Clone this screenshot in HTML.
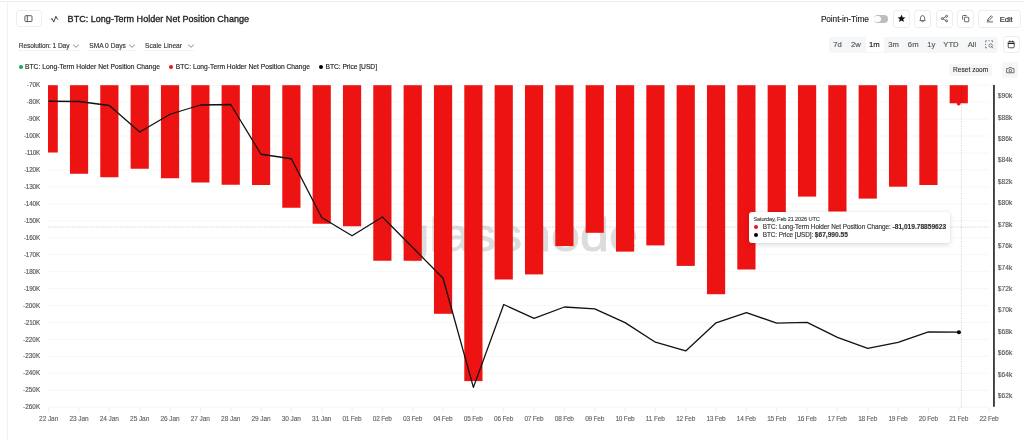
<!DOCTYPE html>
<html lang="en"><head><meta charset="utf-8"><title>BTC: Long-Term Holder Net Position Change</title>
<style>
html,body{margin:0;padding:0;background:#fff;}
body{width:1024px;height:440px;position:relative;overflow:hidden;font-family:"Liberation Sans", Arial, sans-serif;}
.t{position:absolute;white-space:pre;display:block;z-index:2;-webkit-text-stroke:0.14px;}
.abs{position:absolute;box-sizing:border-box;}
.btn{position:absolute;box-sizing:border-box;border:1px solid #eeeeee;border-radius:3px;background:#fff;}
.btn svg{position:absolute;left:-1px;top:-1px;}
.ico svg{position:absolute;left:0;top:0;}
.chart{position:absolute;left:0;top:0;}
.ul{position:absolute;height:0;border-top:1px dotted #e4e4e4;}
.ttl{-webkit-text-stroke:0.32px #222;}
.dot{position:absolute;border-radius:50%;}
.tip{position:absolute;left:749.2px;top:211.6px;width:201.1px;height:31.8px;background:#fff;border-radius:3px;box-shadow:0 1.5px 5px rgba(0,0,0,0.14),0 0 1px rgba(0,0,0,0.08);}

</style></head><body>
<div class="abs" style="left:0;top:1px;width:1024px;height:1px;background:#efefef"></div>
<div class="abs" style="left:7px;top:2px;width:1px;height:438px;background:#f1f1f1"></div>
<svg class="chart" width="1024" height="440" viewBox="0 0 1024 440">
<line x1="48" x2="989" y1="85.20" y2="85.20" stroke="#f5f5f5" stroke-width="0.8"/>
<line x1="48" x2="989" y1="102.15" y2="102.15" stroke="#f5f5f5" stroke-width="0.8"/>
<line x1="48" x2="989" y1="119.09" y2="119.09" stroke="#f5f5f5" stroke-width="0.8"/>
<line x1="48" x2="989" y1="136.04" y2="136.04" stroke="#f5f5f5" stroke-width="0.8"/>
<line x1="48" x2="989" y1="152.99" y2="152.99" stroke="#f5f5f5" stroke-width="0.8"/>
<line x1="48" x2="989" y1="169.94" y2="169.94" stroke="#f5f5f5" stroke-width="0.8"/>
<line x1="48" x2="989" y1="186.88" y2="186.88" stroke="#f5f5f5" stroke-width="0.8"/>
<line x1="48" x2="989" y1="203.83" y2="203.83" stroke="#f5f5f5" stroke-width="0.8"/>
<line x1="48" x2="989" y1="220.78" y2="220.78" stroke="#f5f5f5" stroke-width="0.8"/>
<line x1="48" x2="989" y1="237.72" y2="237.72" stroke="#f5f5f5" stroke-width="0.8"/>
<line x1="48" x2="989" y1="254.67" y2="254.67" stroke="#f5f5f5" stroke-width="0.8"/>
<line x1="48" x2="989" y1="271.62" y2="271.62" stroke="#f5f5f5" stroke-width="0.8"/>
<line x1="48" x2="989" y1="288.56" y2="288.56" stroke="#f5f5f5" stroke-width="0.8"/>
<line x1="48" x2="989" y1="305.51" y2="305.51" stroke="#f5f5f5" stroke-width="0.8"/>
<line x1="48" x2="989" y1="322.46" y2="322.46" stroke="#f5f5f5" stroke-width="0.8"/>
<line x1="48" x2="989" y1="339.41" y2="339.41" stroke="#f5f5f5" stroke-width="0.8"/>
<line x1="48" x2="989" y1="356.35" y2="356.35" stroke="#f5f5f5" stroke-width="0.8"/>
<line x1="48" x2="989" y1="373.30" y2="373.30" stroke="#f5f5f5" stroke-width="0.8"/>
<line x1="48" x2="989" y1="390.25" y2="390.25" stroke="#f5f5f5" stroke-width="0.8"/>
<line x1="48" x2="989" y1="407.19" y2="407.19" stroke="#f5f5f5" stroke-width="0.8"/>
<text x="400.5" y="251.4" font-family='Liberation Sans, Arial, sans-serif' font-size="47" font-weight="400" fill="#dcdcdc" stroke="#dcdcdc" stroke-width="0.9" textLength="237.5" lengthAdjust="spacingAndGlyphs">glassnode</text>
<line x1="48" x2="989" y1="227.1" y2="227.1" stroke="#c2c2c2" stroke-width="0.7" stroke-dasharray="1.2 1.2"/>
<rect x="48.00" y="85.20" width="9.80" height="67.30" fill="#ee1313"/>
<rect x="69.94" y="85.20" width="18.20" height="88.55" fill="#ee1313"/>
<rect x="100.27" y="85.20" width="18.20" height="92.05" fill="#ee1313"/>
<rect x="130.60" y="85.20" width="18.20" height="83.55" fill="#ee1313"/>
<rect x="160.94" y="85.20" width="18.20" height="93.05" fill="#ee1313"/>
<rect x="191.28" y="85.20" width="18.20" height="97.30" fill="#ee1313"/>
<rect x="221.61" y="85.20" width="18.20" height="99.55" fill="#ee1313"/>
<rect x="251.95" y="85.20" width="18.20" height="99.80" fill="#ee1313"/>
<rect x="282.28" y="85.20" width="18.20" height="122.55" fill="#ee1313"/>
<rect x="312.61" y="85.20" width="18.20" height="138.55" fill="#ee1313"/>
<rect x="342.95" y="85.20" width="18.20" height="141.05" fill="#ee1313"/>
<rect x="373.28" y="85.20" width="18.20" height="175.55" fill="#ee1313"/>
<rect x="403.62" y="85.20" width="18.20" height="175.55" fill="#ee1313"/>
<rect x="433.95" y="85.20" width="18.20" height="228.60" fill="#ee1313"/>
<rect x="464.29" y="85.20" width="18.20" height="295.90" fill="#ee1313"/>
<rect x="494.62" y="85.20" width="18.20" height="194.30" fill="#ee1313"/>
<rect x="524.96" y="85.20" width="18.20" height="189.20" fill="#ee1313"/>
<rect x="555.30" y="85.20" width="18.20" height="160.90" fill="#ee1313"/>
<rect x="585.63" y="85.20" width="18.20" height="147.60" fill="#ee1313"/>
<rect x="615.97" y="85.20" width="18.20" height="166.40" fill="#ee1313"/>
<rect x="646.30" y="85.20" width="18.20" height="160.20" fill="#ee1313"/>
<rect x="676.63" y="85.20" width="18.20" height="180.70" fill="#ee1313"/>
<rect x="706.97" y="85.20" width="18.20" height="209.00" fill="#ee1313"/>
<rect x="737.31" y="85.20" width="18.20" height="184.30" fill="#ee1313"/>
<rect x="767.64" y="85.20" width="18.20" height="127.30" fill="#ee1313"/>
<rect x="797.98" y="85.20" width="18.20" height="111.40" fill="#ee1313"/>
<rect x="828.31" y="85.20" width="18.20" height="126.30" fill="#ee1313"/>
<rect x="858.65" y="85.20" width="18.20" height="113.40" fill="#ee1313"/>
<rect x="888.98" y="85.20" width="18.20" height="101.50" fill="#ee1313"/>
<rect x="919.32" y="85.20" width="18.20" height="99.80" fill="#ee1313"/>
<rect x="949.65" y="85.20" width="18.20" height="18.10" fill="#ee1313"/>
<line x1="48.70" x2="48.70" y1="407.3" y2="412.6" stroke="#ececec" stroke-width="0.8"/>
<line x1="79.03" x2="79.03" y1="407.3" y2="412.6" stroke="#ececec" stroke-width="0.8"/>
<line x1="109.37" x2="109.37" y1="407.3" y2="412.6" stroke="#ececec" stroke-width="0.8"/>
<line x1="139.70" x2="139.70" y1="407.3" y2="412.6" stroke="#ececec" stroke-width="0.8"/>
<line x1="170.04" x2="170.04" y1="407.3" y2="412.6" stroke="#ececec" stroke-width="0.8"/>
<line x1="200.38" x2="200.38" y1="407.3" y2="412.6" stroke="#ececec" stroke-width="0.8"/>
<line x1="230.71" x2="230.71" y1="407.3" y2="412.6" stroke="#ececec" stroke-width="0.8"/>
<line x1="261.05" x2="261.05" y1="407.3" y2="412.6" stroke="#ececec" stroke-width="0.8"/>
<line x1="291.38" x2="291.38" y1="407.3" y2="412.6" stroke="#ececec" stroke-width="0.8"/>
<line x1="321.71" x2="321.71" y1="407.3" y2="412.6" stroke="#ececec" stroke-width="0.8"/>
<line x1="352.05" x2="352.05" y1="407.3" y2="412.6" stroke="#ececec" stroke-width="0.8"/>
<line x1="382.38" x2="382.38" y1="407.3" y2="412.6" stroke="#ececec" stroke-width="0.8"/>
<line x1="412.72" x2="412.72" y1="407.3" y2="412.6" stroke="#ececec" stroke-width="0.8"/>
<line x1="443.06" x2="443.06" y1="407.3" y2="412.6" stroke="#ececec" stroke-width="0.8"/>
<line x1="473.39" x2="473.39" y1="407.3" y2="412.6" stroke="#ececec" stroke-width="0.8"/>
<line x1="503.73" x2="503.73" y1="407.3" y2="412.6" stroke="#ececec" stroke-width="0.8"/>
<line x1="534.06" x2="534.06" y1="407.3" y2="412.6" stroke="#ececec" stroke-width="0.8"/>
<line x1="564.40" x2="564.40" y1="407.3" y2="412.6" stroke="#ececec" stroke-width="0.8"/>
<line x1="594.73" x2="594.73" y1="407.3" y2="412.6" stroke="#ececec" stroke-width="0.8"/>
<line x1="625.07" x2="625.07" y1="407.3" y2="412.6" stroke="#ececec" stroke-width="0.8"/>
<line x1="655.40" x2="655.40" y1="407.3" y2="412.6" stroke="#ececec" stroke-width="0.8"/>
<line x1="685.74" x2="685.74" y1="407.3" y2="412.6" stroke="#ececec" stroke-width="0.8"/>
<line x1="716.07" x2="716.07" y1="407.3" y2="412.6" stroke="#ececec" stroke-width="0.8"/>
<line x1="746.41" x2="746.41" y1="407.3" y2="412.6" stroke="#ececec" stroke-width="0.8"/>
<line x1="776.74" x2="776.74" y1="407.3" y2="412.6" stroke="#ececec" stroke-width="0.8"/>
<line x1="807.08" x2="807.08" y1="407.3" y2="412.6" stroke="#ececec" stroke-width="0.8"/>
<line x1="837.41" x2="837.41" y1="407.3" y2="412.6" stroke="#ececec" stroke-width="0.8"/>
<line x1="867.75" x2="867.75" y1="407.3" y2="412.6" stroke="#ececec" stroke-width="0.8"/>
<line x1="898.08" x2="898.08" y1="407.3" y2="412.6" stroke="#ececec" stroke-width="0.8"/>
<line x1="928.42" x2="928.42" y1="407.3" y2="412.6" stroke="#ececec" stroke-width="0.8"/>
<line x1="958.75" x2="958.75" y1="407.3" y2="412.6" stroke="#ececec" stroke-width="0.8"/>
<line x1="989.09" x2="989.09" y1="407.3" y2="412.6" stroke="#ececec" stroke-width="0.8"/>
<line x1="961.4" x2="961.4" y1="85" y2="408" stroke="rgba(0,0,0,0.25)" stroke-width="0.7" stroke-dasharray="1.2 1.2"/>
<polyline points="48.70,101.25 79.03,101.50 109.37,105.50 139.70,132.00 170.04,114.25 200.38,105.00 230.71,104.50 261.05,154.25 291.38,158.75 321.71,217.50 352.05,235.75 382.38,217.00 412.72,247.50 443.06,278.25 473.39,387.40 503.73,304.50 534.06,318.40 564.40,307.00 594.73,308.90 625.07,322.60 655.40,342.20 685.74,350.90 716.07,322.80 746.41,312.70 776.74,323.10 807.08,322.30 837.41,337.30 867.75,348.40 898.08,342.30 928.42,331.80 958.75,332.10" fill="none" stroke="#111" stroke-width="1.3" stroke-linejoin="round"/>
<circle cx="958.7" cy="103.6" r="1.9" fill="#ee1313"/>
<circle cx="958.9" cy="332.3" r="2.05" fill="#000"/>
<rect x="993.1" y="85" width="1.7" height="321.8" fill="#2a2a2a"/>
</svg>
<div class="btn" style="left:16.4px;top:10.2px;width:25.2px;height:17.3px"><svg width="24.8" height="17.2" viewBox="0 0 24.8 17.2"><rect x="8.9" y="5.7" width="7.1" height="5.9" rx="0.9" fill="none" stroke="#333" stroke-width="0.8"/><line x1="11.3" y1="5.7" x2="11.3" y2="11.6" stroke="#333" stroke-width="0.8"/></svg></div>
<div class="ico abs" style="left:48px;top:13px;width:12px;height:12px"><svg width="12" height="12" viewBox="0 0 12 12"><path d="M3.2 6.1 L4.2 5.7 L5.7 9.1 L7.9 3.3 L8.9 5.6 L9.9 6.2" fill="none" stroke="#222" stroke-width="0.85" stroke-linecap="round" stroke-linejoin="round"/></svg></div>
<span class="t ttl" style="left:67.60px;top:13px;font-size:9.0px;line-height:13px;font-weight:400;color:#222;letter-spacing:0.033px">BTC: Long-Term Holder Net Position Change</span>
<span class="t " style="left:18.75px;top:41px;font-size:6.6px;line-height:9px;font-weight:400;color:#333;letter-spacing:-0.081px">Resolution: 1 Day</span>
<span class="t " style="left:89.25px;top:41px;font-size:6.6px;line-height:9px;font-weight:400;color:#333;letter-spacing:0.024px">SMA 0 Days</span>
<span class="t " style="left:145.00px;top:41px;font-size:6.6px;line-height:9px;font-weight:400;color:#333;letter-spacing:0.031px">Scale Linear</span>
<span class="t " style="left:25.00px;top:62px;font-size:6.7px;line-height:9px;font-weight:400;color:#222;letter-spacing:0.030px">BTC: Long-Term Holder Net Position Change</span>
<span class="t " style="left:175.75px;top:62px;font-size:6.7px;line-height:9px;font-weight:400;color:#222;letter-spacing:0.011px">BTC: Long-Term Holder Net Position Change</span>
<span class="t " style="left:325.50px;top:62px;font-size:6.7px;line-height:9px;font-weight:400;color:#222;letter-spacing:-0.035px">BTC: Price [USD]</span>
<span class="t " style="left:820.90px;top:13px;font-size:8.3px;line-height:12px;font-weight:400;color:#222;letter-spacing:-0.086px">Point-in-Time</span>
<span class="t " style="left:999.80px;top:14px;font-size:7.7px;line-height:11px;font-weight:400;color:#222;letter-spacing:-0.117px">Edit</span>
<span class="t " style="left:953.00px;top:65px;font-size:6.6px;line-height:9px;font-weight:400;color:#333;letter-spacing:0.012px">Reset zoom</span>
<span class="t " style="left:833.32px;top:39px;font-size:7.7px;line-height:11px;font-weight:400;color:#555;letter-spacing:0.000px">7d</span>
<span class="t " style="left:850.89px;top:39px;font-size:7.7px;line-height:11px;font-weight:400;color:#555;letter-spacing:0.000px">2w</span>
<span class="t " style="left:869.06px;top:39px;font-size:7.7px;line-height:11px;font-weight:400;color:#111;letter-spacing:0.000px">1m</span>
<span class="t " style="left:888.26px;top:39px;font-size:7.7px;line-height:11px;font-weight:400;color:#555;letter-spacing:0.000px">3m</span>
<span class="t " style="left:907.86px;top:39px;font-size:7.7px;line-height:11px;font-weight:400;color:#555;letter-spacing:0.000px">6m</span>
<span class="t " style="left:927.14px;top:39px;font-size:7.7px;line-height:11px;font-weight:400;color:#555;letter-spacing:0.000px">1y</span>
<span class="t " style="left:943.31px;top:39px;font-size:7.7px;line-height:11px;font-weight:400;color:#555;letter-spacing:0.000px">YTD</span>
<span class="t " style="left:967.73px;top:39px;font-size:7.7px;line-height:11px;font-weight:400;color:#555;letter-spacing:0.000px">All</span>
<div class="ico abs" style="left:72.00px;top:42.3px;width:8px;height:8px"><svg width="8" height="8" viewBox="0 0 8 8"><path d="M1.4 2.9 L4 5.3 L6.6 2.9" fill="none" stroke="#555" stroke-width="0.7" stroke-linecap="round" stroke-linejoin="round"/></svg></div>
<div class="ul" style="left:18.75px;top:50.2px;width:60.00px"></div>
<div class="ico abs" style="left:128.00px;top:42.3px;width:8px;height:8px"><svg width="8" height="8" viewBox="0 0 8 8"><path d="M1.4 2.9 L4 5.3 L6.6 2.9" fill="none" stroke="#555" stroke-width="0.7" stroke-linecap="round" stroke-linejoin="round"/></svg></div>
<div class="ul" style="left:89.25px;top:50.2px;width:45.50px"></div>
<div class="ico abs" style="left:186.75px;top:42.3px;width:8px;height:8px"><svg width="8" height="8" viewBox="0 0 8 8"><path d="M1.4 2.9 L4 5.3 L6.6 2.9" fill="none" stroke="#555" stroke-width="0.7" stroke-linecap="round" stroke-linejoin="round"/></svg></div>
<div class="ul" style="left:145.00px;top:50.2px;width:48.60px"></div>
<div class="dot" style="left:18.5px;top:64.5px;width:4.6px;height:4.6px;background:#0fa958"></div>
<div class="dot" style="left:168.6px;top:64.5px;width:4.6px;height:4.6px;background:#f01414"></div>
<div class="dot" style="left:318.6px;top:64.5px;width:4.6px;height:4.6px;background:#000"></div>
<div class="abs" style="left:873.7px;top:15.1px;width:14.8px;height:8px;border-radius:4px;background:#bdbdbd"><div class="abs" style="left:0.8px;top:0.8px;width:6.4px;height:6.4px;border-radius:50%;background:#fff"></div></div>
<div class="btn" style="left:893px;top:10.4px;width:17px;height:17.2px"><svg width="17" height="17.2" viewBox="0 0 17 17.2"><path d="M8.5 4.6 L9.6 7.2 L12.4 7.4 L10.25 9.2 L10.95 11.95 L8.5 10.45 L6.05 11.95 L6.75 9.2 L4.6 7.4 L7.4 7.2 Z" fill="#111"/></svg></div>
<div class="btn" style="left:914.3px;top:10.4px;width:17.1px;height:17.2px"><svg width="17.1" height="17.2" viewBox="0 0 17.1 17.2"><path d="M5.9 10.6 C6.6 9.9 6.5 9 6.5 7.9 C6.5 6.6 7.4 5.7 8.55 5.7 C9.7 5.7 10.6 6.6 10.6 7.9 C10.6 9 10.5 9.9 11.2 10.6 Z" fill="none" stroke="#333" stroke-width="0.75" stroke-linejoin="round"/><path d="M7.8 11.6 Q8.55 12.3 9.3 11.6" fill="none" stroke="#333" stroke-width="0.75" stroke-linecap="round"/></svg></div>
<div class="btn" style="left:935.6px;top:10.4px;width:17.1px;height:17.2px"><svg width="17.1" height="17.2" viewBox="0 0 17.1 17.2"><g fill="none" stroke="#333" stroke-width="0.75"><circle cx="6.3" cy="8.6" r="1"/><circle cx="10.6" cy="6.3" r="1"/><circle cx="10.6" cy="10.9" r="1"/><path d="M7.2 8.1 L9.7 6.8 M7.2 9.1 L9.7 10.4"/></g></svg></div>
<div class="btn" style="left:956.9px;top:10.4px;width:17.1px;height:17.2px"><svg width="17.1" height="17.2" viewBox="0 0 17.1 17.2"><g fill="none" stroke="#333" stroke-width="0.75" stroke-linejoin="round"><rect x="7.4" y="7.2" width="4.4" height="4.6" rx="0.8"/><path d="M5.6 9.6 L5.6 6.2 Q5.6 5.5 6.3 5.5 L9.6 5.5"/></g></svg></div>
<div class="btn" style="left:978.4px;top:10.4px;width:42.3px;height:17.2px"><svg width="42.3" height="17.2" viewBox="0 0 42.3 17.2"><g fill="none" stroke="#333" stroke-width="0.75" stroke-linecap="round" stroke-linejoin="round"><path d="M9.6 10.6 L10 9 L13.3 5.7 L14.5 6.9 L11.2 10.2 Z"/><path d="M9.2 11.9 L14.6 11.9"/></g></svg></div>
<div class="abs" style="left:828.8px;top:36.6px;width:169.3px;height:16.2px;border-radius:3px;background:#f5f6f8"></div>
<div class="abs" style="left:866px;top:37.2px;width:17.6px;height:15px;border-radius:2px;background:#fff"></div>
<div class="ico abs" style="left:984px;top:38.9px;width:11px;height:11px"><svg width="11" height="11" viewBox="0 0 11 11"><g fill="none" stroke="#555" stroke-width="0.7"><path d="M1.6 3.2 V1.8 H3 M4.4 1.8 H5.8 M7.2 1.8 H8.6 V3.2 M1.6 4.6 V6 M1.6 7.4 V8.8 H3" stroke-linecap="butt"/><circle cx="6.6" cy="6.5" r="1.7"/><path d="M7.9 7.8 L9.2 9.1" stroke-linecap="round"/></g></svg></div>
<div class="btn" style="left:1003.3px;top:36px;width:16.4px;height:17.3px"><svg width="16.4" height="17.3" viewBox="0 0 16.4 17.3"><g fill="none" stroke="#222" stroke-width="0.8" stroke-linejoin="round"><rect x="5.2" y="5.6" width="6" height="6.2" rx="1"/><path d="M5.2 7.4 H11.2" stroke-width="1.2"/><path d="M6.7 4.9 V5.8 M9.7 4.9 V5.8" stroke-linecap="round"/></g></svg></div>
<div class="abs" style="left:949px;top:63.7px;width:43.2px;height:12px;border-radius:2.5px;background:#f6f6f7"></div>
<div class="abs" style="left:1002.3px;top:62px;width:15.8px;height:16.4px;border-radius:2.5px;background:#f6f6f7"><svg width="15.8" height="16.4" viewBox="0 0 15.8 16.4" style="position:absolute;left:0;top:0"><g fill="none" stroke="#444" stroke-width="0.75" stroke-linejoin="round"><path d="M4.6 6.6 H6.4 L7.0 5.6 H9.6 L10.2 6.6 H12 V10.8 H4.6 Z"/><circle cx="8.3" cy="8.6" r="1.3"/></g></svg></div>
<div class="tip"></div>
<div class="dot" style="left:753.9px;top:224.7px;width:4.3px;height:4.3px;background:#ee1313"></div>
<div class="dot" style="left:753.9px;top:232.5px;width:4.3px;height:4.3px;background:#000"></div>
<span class="t " style="left:753.40px;top:215px;font-size:5.7px;line-height:8px;font-weight:400;color:#444;letter-spacing:-0.180px">Saturday, Feb 21 2026 UTC</span>
<span class="t " style="left:762.80px;top:222px;font-size:6.4px;line-height:9px;font-weight:400;color:#333;letter-spacing:-0.040px">BTC: Long-Term Holder Net Position Change:</span>
<span class="t " style="left:892.60px;top:222px;font-size:6.6px;line-height:9px;font-weight:700;color:#333;letter-spacing:-0.003px">-81,019.78859623</span>
<span class="t " style="left:762.80px;top:230px;font-size:6.4px;line-height:9px;font-weight:400;color:#333;letter-spacing:-0.069px">BTC: Price [USD]:</span>
<span class="t " style="left:814.80px;top:230px;font-size:6.6px;line-height:9px;font-weight:700;color:#333;letter-spacing:0.009px">$67,990.55</span>
<span class="t " style="left:26.80px;top:80px;font-size:6.3px;line-height:9px;font-weight:400;color:#555;letter-spacing:-0.004px">-70K</span>
<span class="t " style="left:26.80px;top:97px;font-size:6.3px;line-height:9px;font-weight:400;color:#555;letter-spacing:-0.004px">-80K</span>
<span class="t " style="left:26.80px;top:114px;font-size:6.3px;line-height:9px;font-weight:400;color:#555;letter-spacing:-0.004px">-90K</span>
<span class="t " style="left:23.95px;top:131px;font-size:6.3px;line-height:9px;font-weight:400;color:#555;letter-spacing:-0.166px">-100K</span>
<span class="t " style="left:24.80px;top:148px;font-size:6.3px;line-height:9px;font-weight:400;color:#555;letter-spacing:-0.261px">-110K</span>
<span class="t " style="left:23.95px;top:165px;font-size:6.3px;line-height:9px;font-weight:400;color:#555;letter-spacing:-0.166px">-120K</span>
<span class="t " style="left:23.95px;top:182px;font-size:6.3px;line-height:9px;font-weight:400;color:#555;letter-spacing:-0.166px">-130K</span>
<span class="t " style="left:23.95px;top:199px;font-size:6.3px;line-height:9px;font-weight:400;color:#555;letter-spacing:-0.166px">-140K</span>
<span class="t " style="left:23.95px;top:216px;font-size:6.3px;line-height:9px;font-weight:400;color:#555;letter-spacing:-0.166px">-150K</span>
<span class="t " style="left:23.95px;top:233px;font-size:6.3px;line-height:9px;font-weight:400;color:#555;letter-spacing:-0.166px">-160K</span>
<span class="t " style="left:23.95px;top:250px;font-size:6.3px;line-height:9px;font-weight:400;color:#555;letter-spacing:-0.166px">-170K</span>
<span class="t " style="left:23.95px;top:267px;font-size:6.3px;line-height:9px;font-weight:400;color:#555;letter-spacing:-0.166px">-180K</span>
<span class="t " style="left:23.95px;top:284px;font-size:6.3px;line-height:9px;font-weight:400;color:#555;letter-spacing:-0.166px">-190K</span>
<span class="t " style="left:23.10px;top:301px;font-size:6.3px;line-height:9px;font-weight:400;color:#555;letter-spacing:0.047px">-200K</span>
<span class="t " style="left:23.95px;top:318px;font-size:6.3px;line-height:9px;font-weight:400;color:#555;letter-spacing:-0.166px">-210K</span>
<span class="t " style="left:23.10px;top:335px;font-size:6.3px;line-height:9px;font-weight:400;color:#555;letter-spacing:0.047px">-220K</span>
<span class="t " style="left:23.10px;top:351px;font-size:6.3px;line-height:9px;font-weight:400;color:#555;letter-spacing:0.047px">-230K</span>
<span class="t " style="left:23.10px;top:368px;font-size:6.3px;line-height:9px;font-weight:400;color:#555;letter-spacing:0.047px">-240K</span>
<span class="t " style="left:23.10px;top:385px;font-size:6.3px;line-height:9px;font-weight:400;color:#555;letter-spacing:0.047px">-250K</span>
<span class="t " style="left:23.10px;top:402px;font-size:6.3px;line-height:9px;font-weight:400;color:#555;letter-spacing:0.047px">-260K</span>
<span class="t " style="left:997.80px;top:91px;font-size:6.6px;line-height:9px;font-weight:400;color:#555;letter-spacing:0.096px">$90k</span>
<span class="t " style="left:997.80px;top:113px;font-size:6.6px;line-height:9px;font-weight:400;color:#555;letter-spacing:0.096px">$88k</span>
<span class="t " style="left:997.80px;top:134px;font-size:6.6px;line-height:9px;font-weight:400;color:#555;letter-spacing:0.096px">$86k</span>
<span class="t " style="left:997.80px;top:155px;font-size:6.6px;line-height:9px;font-weight:400;color:#555;letter-spacing:0.096px">$84k</span>
<span class="t " style="left:997.80px;top:177px;font-size:6.6px;line-height:9px;font-weight:400;color:#555;letter-spacing:0.096px">$82k</span>
<span class="t " style="left:997.80px;top:198px;font-size:6.6px;line-height:9px;font-weight:400;color:#555;letter-spacing:0.096px">$80k</span>
<span class="t " style="left:997.80px;top:220px;font-size:6.6px;line-height:9px;font-weight:400;color:#555;letter-spacing:0.096px">$78k</span>
<span class="t " style="left:997.80px;top:241px;font-size:6.6px;line-height:9px;font-weight:400;color:#555;letter-spacing:0.096px">$76k</span>
<span class="t " style="left:997.80px;top:263px;font-size:6.6px;line-height:9px;font-weight:400;color:#555;letter-spacing:0.096px">$74k</span>
<span class="t " style="left:997.80px;top:284px;font-size:6.6px;line-height:9px;font-weight:400;color:#555;letter-spacing:0.096px">$72k</span>
<span class="t " style="left:997.80px;top:305px;font-size:6.6px;line-height:9px;font-weight:400;color:#555;letter-spacing:0.096px">$70k</span>
<span class="t " style="left:997.80px;top:327px;font-size:6.6px;line-height:9px;font-weight:400;color:#555;letter-spacing:0.096px">$68k</span>
<span class="t " style="left:997.80px;top:348px;font-size:6.6px;line-height:9px;font-weight:400;color:#555;letter-spacing:0.096px">$66k</span>
<span class="t " style="left:997.80px;top:370px;font-size:6.6px;line-height:9px;font-weight:400;color:#555;letter-spacing:0.096px">$64k</span>
<span class="t " style="left:997.80px;top:391px;font-size:6.6px;line-height:9px;font-weight:400;color:#555;letter-spacing:0.096px">$62k</span>
<span class="t " style="left:39.10px;top:414px;font-size:6.5px;line-height:9px;font-weight:400;color:#666;letter-spacing:-0.066px">22 Jan</span>
<span class="t " style="left:69.44px;top:414px;font-size:6.5px;line-height:9px;font-weight:400;color:#666;letter-spacing:-0.066px">23 Jan</span>
<span class="t " style="left:99.77px;top:414px;font-size:6.5px;line-height:9px;font-weight:400;color:#666;letter-spacing:-0.066px">24 Jan</span>
<span class="t " style="left:130.10px;top:414px;font-size:6.5px;line-height:9px;font-weight:400;color:#666;letter-spacing:-0.066px">25 Jan</span>
<span class="t " style="left:160.44px;top:414px;font-size:6.5px;line-height:9px;font-weight:400;color:#666;letter-spacing:-0.066px">26 Jan</span>
<span class="t " style="left:190.78px;top:414px;font-size:6.5px;line-height:9px;font-weight:400;color:#666;letter-spacing:-0.066px">27 Jan</span>
<span class="t " style="left:221.11px;top:414px;font-size:6.5px;line-height:9px;font-weight:400;color:#666;letter-spacing:-0.066px">28 Jan</span>
<span class="t " style="left:251.45px;top:414px;font-size:6.5px;line-height:9px;font-weight:400;color:#666;letter-spacing:-0.066px">29 Jan</span>
<span class="t " style="left:281.78px;top:414px;font-size:6.5px;line-height:9px;font-weight:400;color:#666;letter-spacing:-0.066px">30 Jan</span>
<span class="t " style="left:312.11px;top:414px;font-size:6.5px;line-height:9px;font-weight:400;color:#666;letter-spacing:-0.066px">31 Jan</span>
<span class="t " style="left:342.45px;top:414px;font-size:6.5px;line-height:9px;font-weight:400;color:#666;letter-spacing:-0.210px">01 Feb</span>
<span class="t " style="left:372.78px;top:414px;font-size:6.5px;line-height:9px;font-weight:400;color:#666;letter-spacing:-0.210px">02 Feb</span>
<span class="t " style="left:403.12px;top:414px;font-size:6.5px;line-height:9px;font-weight:400;color:#666;letter-spacing:-0.210px">03 Feb</span>
<span class="t " style="left:433.45px;top:414px;font-size:6.5px;line-height:9px;font-weight:400;color:#666;letter-spacing:-0.210px">04 Feb</span>
<span class="t " style="left:463.79px;top:414px;font-size:6.5px;line-height:9px;font-weight:400;color:#666;letter-spacing:-0.210px">05 Feb</span>
<span class="t " style="left:494.12px;top:414px;font-size:6.5px;line-height:9px;font-weight:400;color:#666;letter-spacing:-0.210px">06 Feb</span>
<span class="t " style="left:524.46px;top:414px;font-size:6.5px;line-height:9px;font-weight:400;color:#666;letter-spacing:-0.210px">07 Feb</span>
<span class="t " style="left:554.80px;top:414px;font-size:6.5px;line-height:9px;font-weight:400;color:#666;letter-spacing:-0.210px">08 Feb</span>
<span class="t " style="left:585.13px;top:414px;font-size:6.5px;line-height:9px;font-weight:400;color:#666;letter-spacing:-0.210px">09 Feb</span>
<span class="t " style="left:615.47px;top:414px;font-size:6.5px;line-height:9px;font-weight:400;color:#666;letter-spacing:-0.210px">10 Feb</span>
<span class="t " style="left:645.80px;top:414px;font-size:6.5px;line-height:9px;font-weight:400;color:#666;letter-spacing:-0.113px">11 Feb</span>
<span class="t " style="left:676.13px;top:414px;font-size:6.5px;line-height:9px;font-weight:400;color:#666;letter-spacing:-0.210px">12 Feb</span>
<span class="t " style="left:706.47px;top:414px;font-size:6.5px;line-height:9px;font-weight:400;color:#666;letter-spacing:-0.210px">13 Feb</span>
<span class="t " style="left:736.81px;top:414px;font-size:6.5px;line-height:9px;font-weight:400;color:#666;letter-spacing:-0.210px">14 Feb</span>
<span class="t " style="left:767.14px;top:414px;font-size:6.5px;line-height:9px;font-weight:400;color:#666;letter-spacing:-0.210px">15 Feb</span>
<span class="t " style="left:797.48px;top:414px;font-size:6.5px;line-height:9px;font-weight:400;color:#666;letter-spacing:-0.210px">16 Feb</span>
<span class="t " style="left:827.81px;top:414px;font-size:6.5px;line-height:9px;font-weight:400;color:#666;letter-spacing:-0.210px">17 Feb</span>
<span class="t " style="left:858.15px;top:414px;font-size:6.5px;line-height:9px;font-weight:400;color:#666;letter-spacing:-0.210px">18 Feb</span>
<span class="t " style="left:888.48px;top:414px;font-size:6.5px;line-height:9px;font-weight:400;color:#666;letter-spacing:-0.210px">19 Feb</span>
<span class="t " style="left:918.82px;top:414px;font-size:6.5px;line-height:9px;font-weight:400;color:#666;letter-spacing:-0.210px">20 Feb</span>
<span class="t " style="left:949.15px;top:414px;font-size:6.5px;line-height:9px;font-weight:400;color:#666;letter-spacing:-0.210px">21 Feb</span>
<span class="t " style="left:979.49px;top:414px;font-size:6.5px;line-height:9px;font-weight:400;color:#666;letter-spacing:-0.210px">22 Feb</span>
</body></html>
